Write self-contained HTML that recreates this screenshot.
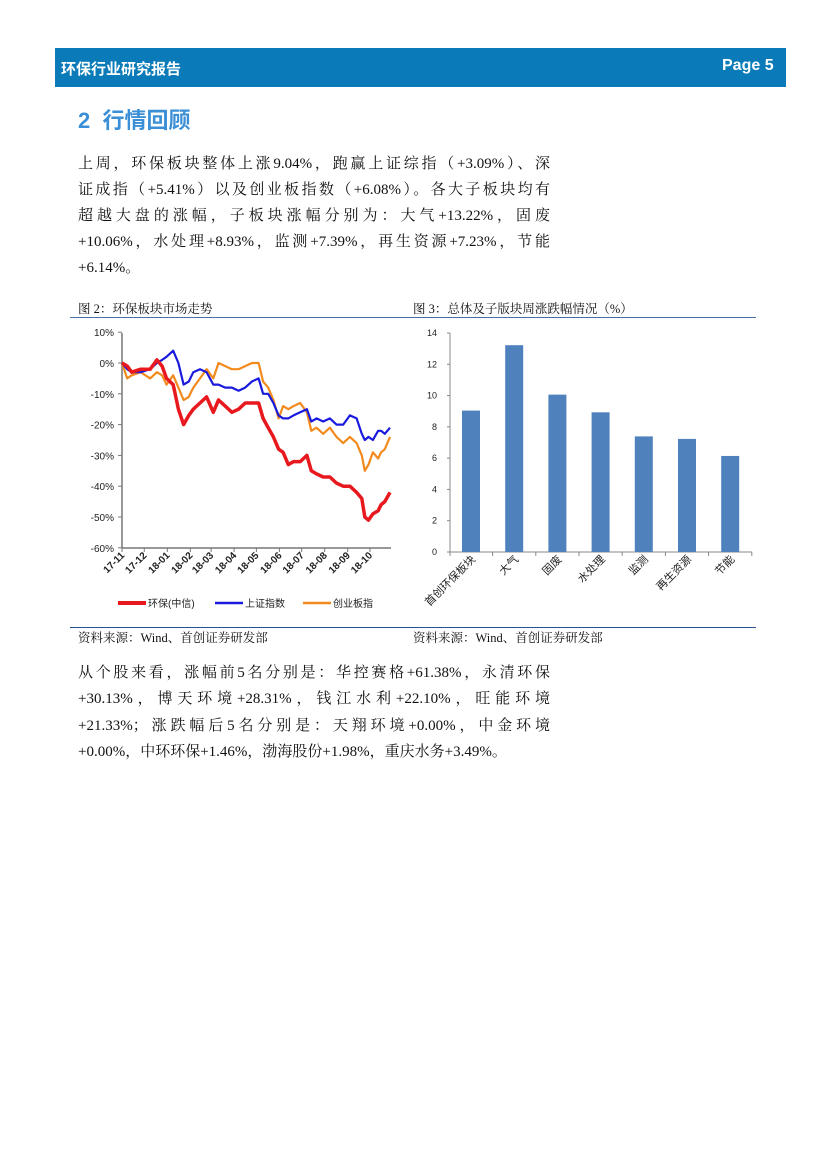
<!DOCTYPE html>
<html><head><meta charset="utf-8"><style>
body{margin:0;width:827px;height:1169px;background:#fff;position:relative;font-family:"Liberation Sans","Noto Sans CJK SC",sans-serif;overflow:hidden}
.abs{position:absolute}
.line{position:absolute;left:78px;width:472px;font-family:"Liberation Serif","Noto Serif CJK SC",serif;font-size:15px;text-align:justify;text-align-last:justify;white-space:nowrap;color:#111}
.line.last{text-align-last:left}
.cap{position:absolute;font-family:"Liberation Serif","Noto Serif CJK SC",serif;font-size:12.5px;color:#111}
</style></head><body>
<div class="abs" style="left:55px;top:48px;width:731px;height:39px;background:#0a7bb8"></div>
<div class="abs" style="left:61px;top:58px;color:#fff;font-weight:bold;font-size:15px">环保行业研究报告</div>
<div class="abs" style="left:722px;top:57px;color:#fff;font-weight:bold;font-size:16px">Page 5</div>
<div class="abs" style="left:78px;top:103px;color:#3b8fd6;font-size:22px;font-weight:bold">2&nbsp; 行情回顾</div>

<div class="line" style="top:152px">上周，环保板块整体上涨9.04%，跑赢上证综指（+3.09%）、深</div>
<div class="line" style="top:178px">证成指（+5.41%）以及创业板指数（+6.08%）。各大子板块均有</div>
<div class="line" style="top:204px">超越大盘的涨幅，子板块涨幅分别为：大气+13.22%，固废</div>
<div class="line" style="top:230px">+10.06%，水处理+8.93%，监测+7.39%，再生资源+7.23%，节能</div>
<div class="line last" style="top:256px">+6.14%。</div>

<div class="cap" style="left:78px;top:299px">图 2：环保板块市场走势</div>
<div class="cap" style="left:413px;top:299px">图 3：总体及子版块周涨跌幅情况（%）</div>
<div class="abs" style="left:70px;top:317px;width:686px;height:1px;background:#4a6fa5"></div>
<div class="abs" style="left:70px;top:627px;width:686px;height:1px;background:#2a4f95"></div>
<div class="cap" style="left:78px;top:628px">资料来源：Wind、首创证券研发部</div>
<div class="cap" style="left:413px;top:628px">资料来源：Wind、首创证券研发部</div>

<svg class="abs" style="left:0;top:0" width="827" height="660" id="svg"></svg>

<div class="line" style="top:661px">从个股来看，涨幅前5名分别是：华控赛格+61.38%，永清环保</div>
<div class="line" style="top:687px">+30.13%，博天环境+28.31%，钱江水利+22.10%，旺能环境</div>
<div class="line" style="top:714px">+21.33%；涨跌幅后5名分别是：天翔环境+0.00%，中金环境</div>
<div class="line last" style="top:740px">+0.00%，中环环保+1.46%，渤海股份+1.98%，重庆水务+3.49%。</div>

<script>
const days=[0,7,13,25,38,47,54,60,69,76,83,90,96,105,114,123,130,139,148,157,166,175,184,190,197,204,211,217,224,231,240,249,255,262,271,280,289,298,307,316,323,327,332,338,345,349,354,361];
const envSeries=[0,-1,-3,-2,-2,1,-1,-5,-7,-15,-20,-17,-15,-13,-11,-16,-12,-14,-16,-15,-13,-13,-13,-18,-21,-24,-28,-29,-33,-32,-32,-30,-35,-36,-37,-37,-39,-40,-40,-42,-44,-50,-51,-49,-48,-46,-45,-42];
const shSeries=[0,-2,-3,-3,-2,0,1,2,4,0,-7,-6,-3,-2,-3,-7,-7,-8,-8,-9,-8,-6,-5,-10,-10,-13,-17,-18,-18,-17,-16,-15,-19,-18,-19,-18,-20,-20,-17,-18,-23,-25,-24,-25,-22,-22,-23,-21];
const cybSeries=[0,-5,-4,-3,-5,-3,-4,-7,-4,-8,-12,-11,-8,-5,-2,-5,0,-1,-2,-2,-1,0,0,-6,-8,-12,-18,-14,-15,-14,-13,-16,-22,-21,-23,-21,-24,-26,-24,-26,-30,-35,-33,-29,-31,-29,-28,-24];
const yTicks=[10,0,-10,-20,-30,-40,-50,-60];
const monthLabels=["17-11","17-12","18-01","18-02","18-03","18-04","18-05","18-06","18-07","18-08","18-09","18-10"];
const monthDays=[0,30,61,92,120,151,181,212,242,273,304,334];
const barCats=["首创环保板块","大气","固废","水处理","监测","再生资源","节能"];
const barVals=[9.04,13.22,10.06,8.93,7.39,7.23,6.14];
const barTicks=[0,2,4,6,8,10,12,14];

const svg=document.getElementById('svg');const NS="http://www.w3.org/2000/svg";
function mk(t,a,txt){const e=document.createElementNS(NS,t);for(const k in a)e.setAttribute(k,a[k]);if(txt!==undefined)e.textContent=txt;svg.appendChild(e);return e;}
const lx=d=>122+d*(268/361), ly=v=>363-v*3.08;
let e=mk('line',{x1:122,y1:333,x2:122,y2:548,stroke:'#777','stroke-width':1.5});

e=mk('line',{x1:122,y1:548,x2:391,y2:548,stroke:'#777','stroke-width':1.5});

yTicks.forEach(v=>{const t=mk('text',{x:114,y:ly(v)+4,'text-anchor':'end','font-size':10,fill:'#222'},v+'%');

mk('line',{x1:118,y1:ly(v),x2:122,y2:ly(v),stroke:'#777'});});
monthLabels.forEach((m,i)=>{const x=lx(monthDays[i]);mk('line',{x1:x,y1:548,x2:x,y2:552,stroke:'#777'});
const t=mk('text',{x:x+3,y:556,'text-anchor':'end','font-size':10,'font-weight':'bold',fill:'#222',transform:`rotate(-45 ${x+3} 556)`},m);
});
function series(vals,col,w,name){const p=mk('polyline',{points:vals.map((v,i)=>lx(days[i]).toFixed(1)+','+ly(v).toFixed(1)).join(' '),fill:'none',stroke:col,'stroke-width':w,'stroke-linejoin':'round'});
}
series(cybSeries,'#f28a1e',2.2,'series-chuangye');
series(shSeries,'#1a1adf',2.2,'series-shanghai');
series(envSeries,'#e8191e',3.5,'series-huanbao');
[[118,'#e8191e',4,'环保(中信)'],[215,'#1a1adf',2.5,'上证指数'],[303,'#f28a1e',2.5,'创业板指']].forEach(l=>{
mk('line',{x1:l[0],y1:603,x2:l[0]+28,y2:603,stroke:l[1],'stroke-width':l[2]});
const t=mk('text',{x:l[0]+30,y:607,'font-size':10,fill:'#222'},l[3]);
});
const by=v=>552-v*(219/14), bx=i=>471+i*43.2;
e=mk('line',{x1:450,y1:333,x2:450,y2:552,stroke:'#888'});

e=mk('line',{x1:450,y1:552,x2:752,y2:552,stroke:'#888'});

barTicks.forEach(v=>{mk('line',{x1:447,y1:by(v),x2:450,y2:by(v),stroke:'#888'});
const t=mk('text',{x:437,y:by(v)+3,'text-anchor':'end','font-size':9,fill:'#222'},v);
});
barVals.forEach((v,i)=>{const r=mk('rect',{x:bx(i)-9,y:by(v),width:18,height:552-by(v),fill:'#4f81bd'});

mk('line',{x1:bx(i)+21.6,y1:552,x2:bx(i)+21.6,y2:556,stroke:'#888'});
const t=mk('text',{x:bx(i)+5,y:560,'text-anchor':'end','font-size':11,fill:'#222',transform:`rotate(-45 ${bx(i)+5} 560)`},barCats[i]);
});
mk('line',{x1:450,y1:552,x2:450,y2:556,stroke:'#888'});
</script>
</body></html>
